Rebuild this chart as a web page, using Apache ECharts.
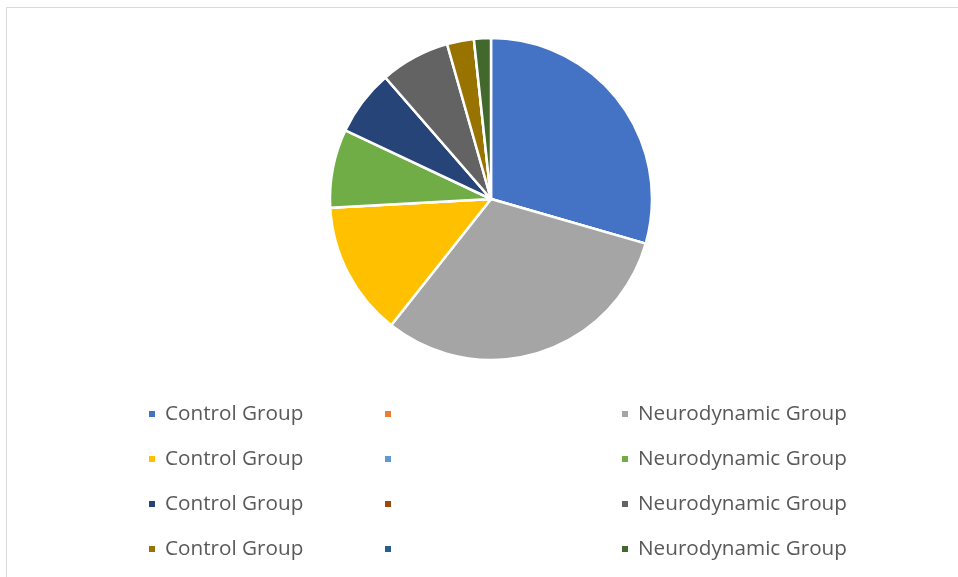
<!DOCTYPE html>
<html>
<head>
<meta charset="utf-8">
<script src="https://cdn.jsdelivr.net/npm/echarts@6/dist/echarts.min.js"></script>
<style>html,body{margin:0;padding:0;background:#fff}#c{width:958px;height:577px}</style>
</head>
<body>
<div id="c"></div>
<script>
var labels = ['Control Group','','Neurodynamic Group','Control Group','','Neurodynamic Group','Control Group','','Neurodynamic Group','Control Group','','Neurodynamic Group'];
var values = [29.5, 0, 31.2, 13.5, 0, 7.9, 6.6, 0, 7.0, 2.7, 0, 1.7];
var colors = ['#4472C4','#ED7D31','#A5A5A5','#FFC000','#5B9BD5','#70AD47','#264478','#9E480E','#636363','#997300','#255E91','#43682B'];

var keys = labels.map(function(l,i){ return 'item' + i; });
var labelMap = {};
keys.forEach(function(k,i){ labelMap[k] = labels[i]; });

var data = values.map(function(v,i){ return {name: keys[i], value: v, itemStyle:{color: colors[i]}}; });

function col(c){ return keys.filter(function(k,i){ return i % 3 === c; }); }
var legendBase = {
  orient: 'vertical',
  top: 403,
  padding: 0,
  itemWidth: 8,
  itemHeight: 8,
  itemGap: 23,
  icon: 'rect',
  formatter: function(n){ return labelMap[n] || '\u00a0'; },
  textStyle: { fontFamily: 'Open Sans', fontSize: 20.7, color: '#595959', padding: [0,0,0,4], lineHeight: 22, height: 22 },
  selectedMode: false
};
var lefts = [147, 383, 620];
var legends = [0,1,2].map(function(c){
  return Object.assign({}, legendBase, { left: lefts[c], data: col(c) });
});

var chart = echarts.init(document.getElementById('c'), null, {renderer:'canvas'});
chart.setOption({
  animation: false,
  color: colors,
  graphic: [{
    type: 'rect', shape: {x: 6.5, y: 7.5, width: 1000, height: 1000},
    style: {fill: 'none', stroke: '#d9d9d9', lineWidth: 1}, silent: true
  }],
  legend: legends,
  series: [{
    type: 'pie',
    center: [491, 199],
    radius: [0, 161],
    startAngle: 90,
    clockwise: true,
    label: {show: false},
    labelLine: {show: false},
    itemStyle: {borderColor: '#ffffff', borderWidth: 2.5},
    emphasis: {disabled: true},
    data: data
  }]
});
</script>
</body>
</html>
